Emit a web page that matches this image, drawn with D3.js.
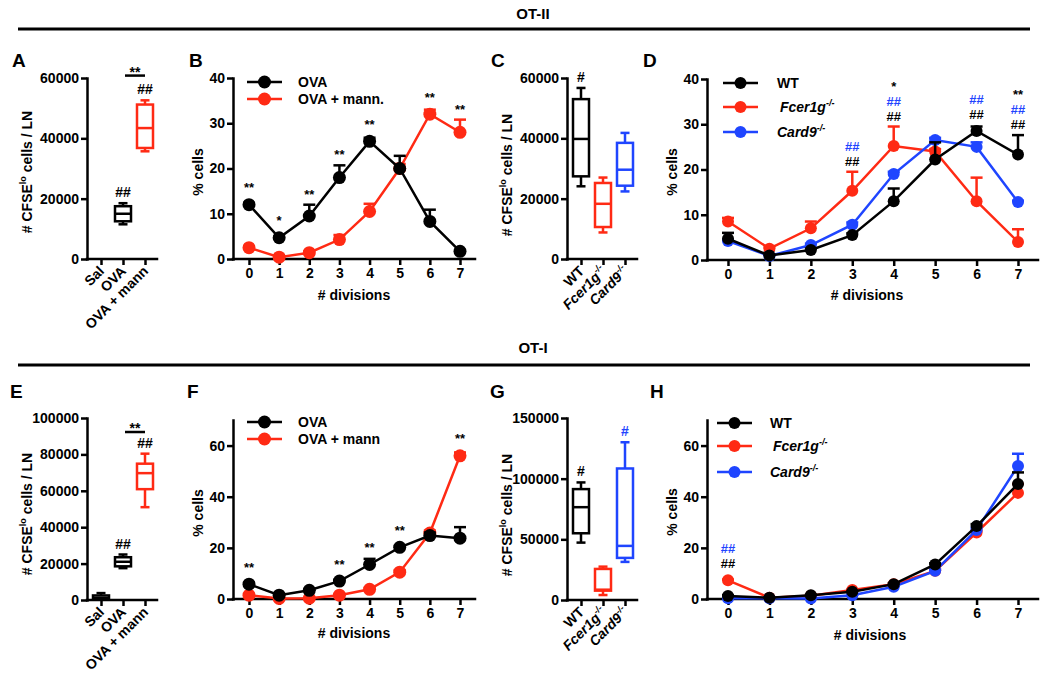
<!DOCTYPE html>
<html><head><meta charset="utf-8">
<script src="https://cdn.jsdelivr.net/npm/d3@7"></script>
<style>
body{margin:0;background:#fff}
svg{font-family:"Liberation Sans",Arial,sans-serif;font-weight:bold}
</style></head><body>
<svg id="fig" width="1050" height="684"></svg>
<script>
// ================= DATA =================
const divisions = [0,1,2,3,4,5,6,7];

// Panel A  (box: min, q1, median, q3, max)
const catA = ["Sal","OVA","OVA + mann"];
const boxA_Sal  = null;
const boxA_OVA  = [11500, 12500, 15000, 17500, 18500];
const boxA_mann = [35700, 36800, 43400, 51200, 52600];
const hashA = ["","##","##"];
const sigA = 60800;
const yTicksA = [0,20000,40000,60000];

// Panel B
const legendB = ["OVA","OVA + mann."];
const ovaB      = [12, 4.7, 9.5, 18, 26, 20, 8.3, 1.7];
const ovaB_err  = [0.4, 0.3, 2.5, 2.7, 0.8, 2.8, 2.6, 0.3];
const mannB     = [2.5, 0.4, 1.4, 4.3, 10.5, 20, 32, 28];
const mannB_err = [0.2, 0.1, 0.3, 1.0, 1.7, 1.0, 1.0, 2.8];
const starsB = ["**","*","**","**","**","","**","**"];
const yTicksB = [0,10,20,30,40];

// Panel C
const catC = ["WT","Fcer1g","Card9"];
const boxC_WT   = [24100, 27400, 39800, 53000, 56700];
const boxC_Fcer = [8800, 10600, 18300, 25200, 27000];
const boxC_Card = [22400, 24300, 29600, 38500, 41800];
const hashC = ["#","",""];
const yTicksC = [0,20000,40000,60000];

// Panel D
const legendD = ["WT","Fcer1g","Card9"];
const wtD       = [4.7, 1, 2.2, 5.5, 13, 22.2, 28.5, 23.3];
const wtD_err   = [1.3, 0.2, 0.3, 0.4, 2.8, 3.8, 1.0, 4.3];
const fcerD     = [8.5, 2.5, 7, 15.3, 25.2, 24, 13, 4];
const fcerD_err = [0.8, 0.3, 1.5, 4.2, 4.3, 0.5, 5.2, 2.8];
const cardD     = [4.2, 0.9, 3.3, 7.8, 19, 26.5, 25, 12.8];
const cardD_err = [0.3, 0.2, 0.3, 0.5, 0.5, 0.5, 1.0, 0.3];
const hashD_black = ["","","","##","##","","##","##"];
const hashD_blue  = ["","","","##","##","","##","##"];
const starsD      = ["","","","","*","","","**"];
const yTicksD = [0,10,20,30,40];

// Panel E
const catE = ["Sal","OVA","OVA + mann"];
const boxE_Sal  = [200, 600, 1200, 2500, 3800];
const boxE_OVA  = [17500, 18500, 21000, 23500, 25000];
const boxE_mann = [51000, 60900, 69700, 74900, 80400];
const hashE = ["","##","##"];
const sigE = 92300;
const yTicksE = [0,20000,40000,60000,80000,100000];

// Panel F
const legendF = ["OVA","OVA + mann"];
const ovaF      = [5.8, 1.5, 3.4, 7, 13.5, 20.2, 24.8, 23.8];
const ovaF_err  = [0.5, 0.2, 0.3, 0.5, 2.2, 0.5, 1.2, 4.3];
const mannF     = [1.5, 0.2, 0.3, 1.5, 3.8, 10.5, 25.8, 56];
const mannF_err = [0.3, 0.1, 0.1, 0.3, 0.5, 0.8, 1.0, 1.3];
const starsF = ["**","","","**","**","**","","**"];
const yTicksF = [0,20,40,60];

// Panel G
const catG = ["WT","Fcer1g","Card9"];
const boxG_WT   = [47300, 55000, 76500, 91400, 96900];
const boxG_Fcer = [4100, 7700, 8500, 25600, 27500];
const boxG_Card = [31400, 34700, 44600, 108400, 130000];
const hashG = ["#","","#"];
const yTicksG = [0,50000,100000,150000];

// Panel H
const legendH = ["WT","Fcer1g","Card9"];
const wtH       = [1.2, 0.5, 1.5, 2.8, 5.8, 13.5, 28.5, 45];
const wtH_err   = [0.3, 0.1, 0.2, 0.3, 0.4, 0.5, 0.8, 4.5];
const fcerH     = [7.3, 0.5, 1.3, 3.5, 5.8, 11, 26, 41.5];
const fcerH_err = [0.3, 0.1, 0.2, 0.3, 0.3, 0.5, 0.8, 3.5];
const cardH     = [0.3, 0.3, 0.2, 1.5, 4.8, 11, 27, 52];
const cardH_err = [0.1, 0.1, 0.1, 0.2, 0.3, 0.5, 0.8, 4.8];
const hashH_black = ["##","","","","","","",""];
const hashH_blue  = ["##","","","","","","",""];
const yTicksH = [0,20,40,60];

// ================= DRAWING =================
const svg = d3.select("#fig");
const RED = "#ff2a14", BLUE = "#1f45ff", BLACK = "#000000";
const LW = 2.5;
const FONT = "'Liberation Sans', Arial, sans-serif";

function header(text, ty, ly) {
  svg.append("text").attr("x",533).attr("y",ty).attr("text-anchor","middle").attr("font-size",15).text(text);
  svg.append("line").attr("x1",18).attr("x2",1030).attr("y1",ly).attr("y2",ly)
    .attr("stroke","#000").attr("stroke-width",3);
}
header("OT-II", 19, 29);
header("OT-I", 353, 365);

function letter(t,x,y){ svg.append("text").attr("x",x).attr("y",y).attr("font-size",19).text(t); }
letter("A",12,67); letter("B",189,67); letter("C",491,67); letter("D",643,67);
letter("E",10,398); letter("F",187,398); letter("G",490,398); letter("H",650,398);

function styleAxis(ax){
  ax.attr("font-size",14).attr("font-family",FONT).attr("font-weight","bold");
  ax.select(".domain").attr("stroke","#000").attr("stroke-width",LW).attr("stroke-linecap","square");
  ax.selectAll(".tick line").attr("stroke","#000").attr("stroke-width",LW);
  ax.selectAll(".tick text").attr("fill","#000");
}

function addName(sel, name, sup) {
  if (name === "Fcer1g" || name === "Card9") {
    sel.append("tspan").attr("font-style","italic").text(name);
    sel.append("tspan").attr("font-style","italic").attr("font-size",sup||9).attr("dy",-6).text("-/-");
  } else sel.append("tspan").text(name);
}

function yLabel(x, y, box) {
  const t = svg.append("text").attr("transform",`translate(${x},${y}) rotate(-90)`)
    .attr("text-anchor","middle").attr("font-size",14);
  if (box) {
    t.append("tspan").text("# CFSE");
    t.append("tspan").attr("font-size",9).attr("dy",-6).text("lo");
    t.append("tspan").attr("dy",6).text(" cells / LN");
  } else t.text("% cells");
}

function boxPanel(p) {
  const y = d3.scaleLinear().domain([0,p.yMax]).range([p.yBot,p.yTop]);
  const x = d3.scalePoint().domain(p.cats).range([p.xFirst,p.xLast]);
  const gy = svg.append("g").attr("transform",`translate(${p.x0},0)`)
    .call(d3.axisLeft(y).tickValues(p.ticks).tickSize(6).tickSizeOuter(0).tickPadding(2).tickFormat(d3.format("d")));
  styleAxis(gy);
  const gx = svg.append("g").attr("transform",`translate(0,${p.yBot})`)
    .call(d3.axisBottom(x).tickSize(6).tickSizeOuter(0).tickFormat(""));
  styleAxis(gx);
  gx.select(".domain").remove();
  svg.append("line").attr("x1",p.x0).attr("x2",p.xEnd).attr("y1",p.yBot).attr("y2",p.yBot)
    .attr("stroke","#000").attr("stroke-width",LW).attr("stroke-linecap","square");
  p.cats.forEach(c => {
    const t = svg.append("text").attr("text-anchor","end").attr("font-size",14)
      .attr("transform",`translate(${x(c)+4},${p.yBot+13}) rotate(-45)`);
    addName(t, c);
  });
  const bw = 16, cw = 9;
  p.boxes.forEach((b,i) => {
    if (!b) return;
    const cx = x(p.cats[i]), col = p.colors[i];
    const g = svg.append("g").attr("stroke",col).attr("stroke-width",LW).attr("fill","none");
    g.append("line").attr("x1",cx).attr("x2",cx).attr("y1",y(b[4])).attr("y2",y(b[3]));
    g.append("line").attr("x1",cx).attr("x2",cx).attr("y1",y(b[1])).attr("y2",y(b[0]));
    g.append("line").attr("x1",cx-cw/2).attr("x2",cx+cw/2).attr("y1",y(b[4])).attr("y2",y(b[4]));
    g.append("line").attr("x1",cx-cw/2).attr("x2",cx+cw/2).attr("y1",y(b[0])).attr("y2",y(b[0]));
    g.append("rect").attr("x",cx-bw/2).attr("width",bw).attr("y",y(b[3])).attr("height",Math.max(0.5,y(b[1])-y(b[3]))).attr("fill","#fff");
    g.append("line").attr("x1",cx-bw/2).attr("x2",cx+bw/2).attr("y1",y(b[2])).attr("y2",y(b[2]));
    if (p.hash[i]) {
      svg.append("text").attr("x",cx).attr("y",y(b[4])-6).attr("text-anchor","middle")
        .attr("font-size",14).attr("fill",p.hashColors[i]).text(p.hash[i]);
    }
  });
  if (p.sig != null) {
    const ly = y(p.sig);
    svg.append("line").attr("x1",x(p.cats[1])+2).attr("x2",x(p.cats[2])).attr("y1",ly).attr("y2",ly)
      .attr("stroke","#000").attr("stroke-width",LW);
    svg.append("text").attr("x",(x(p.cats[1])+x(p.cats[2]))/2+1).attr("y",ly+1).attr("text-anchor","middle")
      .attr("font-size",14).text("**");
  }
  yLabel(p.labX, p.labY, true);
}

function linePanel(p) {
  const y = d3.scaleLinear().domain([0,p.yMax]).range([p.yBot,p.yTop]);
  const x = d3.scaleLinear().domain([0,7]).range([p.xFirst,p.xLast]);
  const gy = svg.append("g").attr("transform",`translate(${p.x0},0)`)
    .call(d3.axisLeft(y).tickValues(p.ticks).tickSize(6).tickSizeOuter(0).tickPadding(2).tickFormat(d3.format("d")));
  styleAxis(gy);
  const gx = svg.append("g").attr("transform",`translate(0,${p.yBot})`)
    .call(d3.axisBottom(x).tickValues(divisions).tickSize(6).tickSizeOuter(0).tickPadding(3).tickFormat(d3.format("d")));
  styleAxis(gx);
  gx.select(".domain").remove();
  svg.append("line").attr("x1",p.x0).attr("x2",p.xEnd).attr("y1",p.yBot).attr("y2",p.yBot)
    .attr("stroke","#000").attr("stroke-width",LW).attr("stroke-linecap","square");
  svg.append("text").attr("x",p.xlabX).attr("y",p.xlabY).attr("text-anchor","middle").attr("font-size",14).text("# divisions");
  yLabel(p.labX, p.labY, false);

  const line = d3.line().x((d,i)=>x(divisions[i])).y(d=>y(d));
  p.series.forEach(s => {
    const g = svg.append("g");
    g.append("path").datum(s.vals).attr("d",line).attr("fill","none").attr("stroke",s.color).attr("stroke-width",LW);
    s.vals.forEach((v,i) => {
      const e = s.err[i]; if (!e) return;
      const cx = x(divisions[i]), yt = y(v+e);
      g.append("line").attr("x1",cx).attr("x2",cx).attr("y1",y(v)).attr("y2",yt).attr("stroke",s.color).attr("stroke-width",LW);
      g.append("line").attr("x1",cx-6).attr("x2",cx+6).attr("y1",yt).attr("y2",yt).attr("stroke",s.color).attr("stroke-width",LW);
    });
    g.selectAll("circle").data(s.vals).join("circle")
      .attr("cx",(d,i)=>x(divisions[i])).attr("cy",d=>y(d)).attr("r",p.r).attr("fill",s.color);
  });
  divisions.forEach((dv,i) => {
    let top = Infinity;
    p.series.forEach(s => { top = Math.min(top, y(s.vals[i]+s.err[i]), y(s.vals[i])-p.r); });
    p.ann.forEach((a,k) => {
      if (!a.texts[i]) return;
      svg.append("text").attr("x",x(dv)).attr("y",top-6-k*15).attr("text-anchor","middle")
        .attr("font-size",13).attr("fill",a.color).text(a.texts[i]);
    });
  });
  p.legend.forEach((name,k) => {
    const ly = p.legY[k], col = p.legColors[k];
    svg.append("line").attr("x1",p.legX1).attr("x2",p.legX2).attr("y1",ly).attr("y2",ly).attr("stroke",col).attr("stroke-width",LW);
    svg.append("circle").attr("cx",(p.legX1+p.legX2)/2).attr("cy",ly).attr("r",p.r).attr("fill",col);
    const t = svg.append("text").attr("x",p.legTX + (name==="Fcer1g"?3:0)).attr("y",ly+5).attr("font-size",14);
    addName(t, name);
  });
}

// ---- OT-II ----
boxPanel({x0:87, xEnd:157, yTop:78, yBot:259, yMax:60000, ticks:yTicksA, cats:catA, xFirst:101, xLast:145,
  boxes:[boxA_Sal, boxA_OVA, boxA_mann], colors:[BLACK,BLACK,RED], hash:hashA, hashColors:[BLACK,BLACK,BLACK],
  sig:sigA, labX:32, labY:172});

linePanel({x0:233, xEnd:475, yTop:78, yBot:259, yMax:40, ticks:yTicksB, xFirst:249, xLast:460, r:6.5,
  series:[{vals:mannB, err:mannB_err, color:RED},{vals:ovaB, err:ovaB_err, color:BLACK}],
  ann:[{texts:starsB, color:BLACK}],
  legend:legendB, legColors:[BLACK,RED], legY:[82,99], legX1:247, legX2:282, legTX:298,
  xlabX:354, xlabY:300, labX:203, labY:172});

boxPanel({x0:567, xEnd:637, yTop:78, yBot:259, yMax:60000, ticks:yTicksC, cats:catC, xFirst:581, xLast:625,
  boxes:[boxC_WT, boxC_Fcer, boxC_Card], colors:[BLACK,RED,BLUE], hash:hashC, hashColors:[BLACK,RED,BLUE],
  sig:null, labX:512, labY:175});

linePanel({x0:707, xEnd:1038, yTop:79, yBot:260, yMax:40, ticks:yTicksD, xFirst:728, xLast:1018, r:6,
  series:[{vals:fcerD, err:fcerD_err, color:RED},{vals:cardD, err:cardD_err, color:BLUE},{vals:wtD, err:wtD_err, color:BLACK}],
  ann:[{texts:hashD_black, color:BLACK},{texts:hashD_blue, color:BLUE},{texts:starsD, color:BLACK}],
  legend:legendD, legColors:[BLACK,RED,BLUE], legY:[83,107,132], legX1:723, legX2:758, legTX:777,
  xlabX:867, xlabY:300, labX:677, labY:172});

// ---- OT-I ----
boxPanel({x0:87, xEnd:157, yTop:418, yBot:600, yMax:100000, ticks:yTicksE, cats:catE, xFirst:101, xLast:145,
  boxes:[boxE_Sal, boxE_OVA, boxE_mann], colors:[BLACK,BLACK,RED], hash:hashE, hashColors:[BLACK,BLACK,BLACK],
  sig:sigE, labX:32, labY:514});

linePanel({x0:233, xEnd:475, yTop:420, yBot:599, yMax:70, ticks:yTicksF, xFirst:249, xLast:460, r:6.5,
  series:[{vals:mannF, err:mannF_err, color:RED},{vals:ovaF, err:ovaF_err, color:BLACK}],
  ann:[{texts:starsF, color:BLACK}],
  legend:legendF, legColors:[BLACK,RED], legY:[422,439], legX1:247, legX2:282, legTX:298,
  xlabX:354, xlabY:638, labX:203, labY:513});

boxPanel({x0:567, xEnd:637, yTop:418, yBot:600, yMax:150000, ticks:yTicksG, cats:catG, xFirst:581, xLast:625,
  boxes:[boxG_WT, boxG_Fcer, boxG_Card], colors:[BLACK,RED,BLUE], hash:hashG, hashColors:[BLACK,RED,BLUE],
  sig:null, labX:512, labY:515});

linePanel({x0:707, xEnd:1038, yTop:420, yBot:599, yMax:70, ticks:yTicksH, xFirst:728, xLast:1018, r:6,
  series:[{vals:fcerH, err:fcerH_err, color:RED},{vals:cardH, err:cardH_err, color:BLUE},{vals:wtH, err:wtH_err, color:BLACK}],
  ann:[{texts:hashH_black, color:BLACK},{texts:hashH_blue, color:BLUE}],
  legend:legendH, legColors:[BLACK,RED,BLUE], legY:[423,446,472], legX1:717, legX2:752, legTX:770,
  xlabX:870, xlabY:640, labX:677, labY:512});
</script>
</body></html>
